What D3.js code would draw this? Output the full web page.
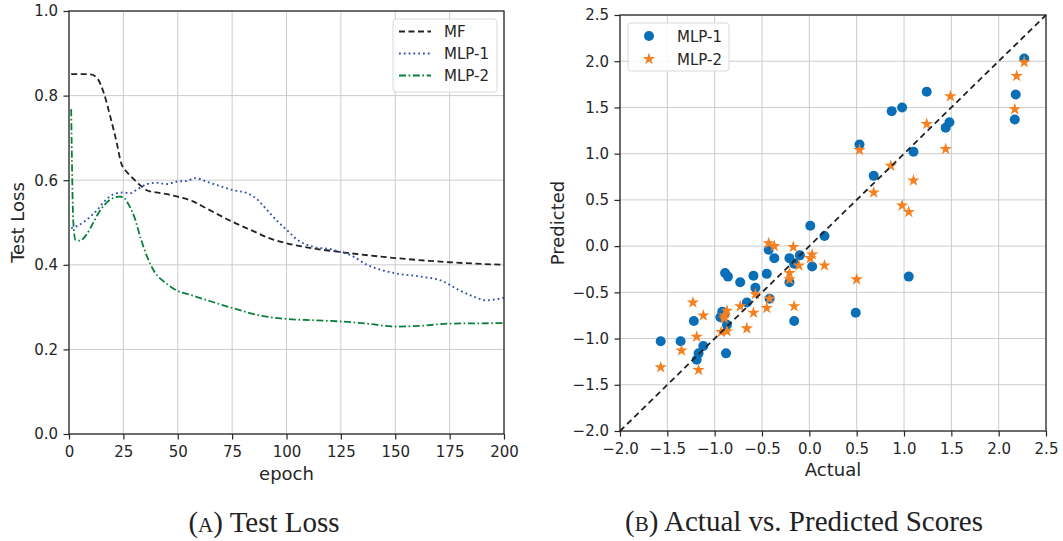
<!DOCTYPE html>
<html>
<head>
<meta charset="utf-8">
<script src="https://cdn.jsdelivr.net/npm/d3@7"></script>
<style>
  body { margin: 0; background: #fff; }
  text { font-family: "DejaVu Sans", sans-serif; fill: #262626; }
  .caption { font-family: "Liberation Serif", "DejaVu Serif", serif; fill: #222; }
</style>
</head>
<body>
<svg id="chart" width="1063" height="541"></svg>
<script>
// ---- (A) test loss curves ----
const mfEpoch = [1, 5, 10, 13, 16, 19, 22, 24, 26.5, 29.5, 32.5, 35.5, 40, 45, 50, 57, 63, 75, 85, 91, 100, 112, 125, 150, 175, 200]
const mfLoss = [0.851, 0.851, 0.85, 0.841, 0.806, 0.75, 0.687, 0.64, 0.62, 0.604, 0.589, 0.577, 0.571, 0.567, 0.561, 0.55, 0.534, 0.502, 0.479, 0.465, 0.451, 0.439, 0.43, 0.416, 0.406, 0.40]

const mlp1Epoch = [1, 3, 8, 13, 17, 21, 25, 28, 31, 36, 40, 45, 50, 54, 58, 63, 70, 75, 82, 86, 91, 96, 100, 105, 112, 122, 125, 129, 137, 150, 162, 172, 179, 186, 192, 197, 200]
const mlp1Loss = [0.487, 0.49, 0.506, 0.53, 0.554, 0.568, 0.571, 0.569, 0.577, 0.591, 0.594, 0.591, 0.597, 0.598, 0.605, 0.597, 0.585, 0.577, 0.569, 0.557, 0.53, 0.502, 0.483, 0.459, 0.443, 0.435, 0.43, 0.424, 0.40, 0.38, 0.372, 0.361, 0.341, 0.325, 0.316, 0.319, 0.322]

const mlp2Epoch = [1, 2, 3, 5, 8, 11, 14, 19, 23, 25, 27, 30, 33, 36, 39, 45, 50, 55, 60, 75, 88, 100, 112, 125, 137, 150, 162, 175, 200]
const mlp2Loss = [0.768, 0.50, 0.459, 0.457, 0.471, 0.498, 0.526, 0.554, 0.561, 0.56, 0.546, 0.514, 0.462, 0.418, 0.386, 0.355, 0.338, 0.330, 0.322, 0.298, 0.28, 0.272, 0.269, 0.266, 0.261, 0.254, 0.256, 0.261, 0.262]

const epochTicks = [0, 25, 50, 75, 100, 125, 150, 175, 200]
const lossTicks = [0.0, 0.2, 0.4, 0.6, 0.8, 1.0]

// ---- (B) actual vs predicted ----
const mlp1Points = [
  [2.27, 2.03], [2.18, 1.64], [2.17, 1.37], [1.24, 1.67], [0.98, 1.50], [0.87, 1.46],
  [1.48, 1.34], [1.44, 1.28], [0.53, 1.10], [1.10, 1.02], [0.68, 0.76], [0.01, 0.22],
  [0.16, 0.11], [-0.43, -0.04], [-0.37, -0.13], [-0.21, -0.13], [-0.10, -0.10], [-0.16, -0.19],
  [0.03, -0.22], [-0.21, -0.39], [-0.45, -0.30], [-0.59, -0.32], [-0.57, -0.45], [-0.73, -0.39],
  [-0.89, -0.29], [-0.86, -0.33], [-0.42, -0.57], [-0.66, -0.61], [-0.92, -0.71], [-0.94, -0.77],
  [-0.90, -0.74], [-0.87, -0.85], [-1.22, -0.81], [-0.16, -0.81], [0.49, -0.72], [1.05, -0.33],
  [-1.57, -1.03], [-1.36, -1.03], [-1.12, -1.08], [-1.17, -1.16], [-1.19, -1.23], [-0.88, -1.16]
]
const mlp2Points = [
  [2.27, 1.99], [2.19, 1.84], [2.17, 1.48], [1.49, 1.62], [1.24, 1.32], [1.44, 1.05],
  [0.53, 1.04], [0.86, 0.87], [0.68, 0.58], [1.10, 0.71], [0.98, 0.44], [1.05, 0.37],
  [-0.43, 0.03], [-0.37, 0.00], [-0.17, -0.01], [0.03, -0.09], [0.01, -0.13], [-0.11, -0.21],
  [0.16, -0.21], [-0.21, -0.29], [-0.21, -0.36], [0.50, -0.36], [-0.57, -0.52], [-0.42, -0.57],
  [-0.45, -0.67], [-0.59, -0.72], [-0.73, -0.65], [-0.66, -0.89], [-0.16, -0.65], [-1.23, -0.61],
  [-1.12, -0.75], [-1.19, -0.98], [-1.35, -1.13], [-1.17, -1.34], [-1.57, -1.31], [-0.87, -0.70],
  [-0.90, -0.75], [-0.90, -0.78], [-0.93, -0.93], [-0.87, -0.92]
]
const scoreTicks = [-2.0, -1.5, -1.0, -0.5, 0.0, 0.5, 1.0, 1.5, 2.0, 2.5]

const svg = d3.select('#chart')
const gridColor = '#cccccc'
const spineColor = '#262626'

// grid + ticks for one panel
function drawAxes(g, x, y, xTicks, yTicks, xFmt, yFmt) {
  const [x0, x1] = x.range()
  const [y0, y1] = y.range()
  g.append('g').selectAll('line').data(xTicks).enter().append('line')
    .attr('x1', d => x(d)).attr('x2', d => x(d)).attr('y1', y0).attr('y2', y1)
    .attr('stroke', gridColor).attr('stroke-width', 1)
  g.append('g').selectAll('line').data(yTicks).enter().append('line')
    .attr('x1', x0).attr('x2', x1).attr('y1', d => y(d)).attr('y2', d => y(d))
    .attr('stroke', gridColor).attr('stroke-width', 1)

  const xAxis = d3.axisBottom(x).tickValues(xTicks).tickFormat(xFmt).tickSize(5.5).tickPadding(6.5)
  const yAxis = d3.axisLeft(y).tickValues(yTicks).tickFormat(yFmt).tickSize(5.5).tickPadding(5.5)
  const ax = g.append('g').attr('transform', `translate(0, ${y0})`).call(xAxis)
  const ay = g.append('g').attr('transform', `translate(${x0}, 0)`).call(yAxis)
  ;[ax, ay].forEach(a => {
    a.select('.domain').remove()
    a.selectAll('line').attr('stroke', spineColor).attr('stroke-width', 1.2)
    a.selectAll('text').attr('font-size', 15).attr('fill', spineColor)
      .style('font-family', '"DejaVu Sans", sans-serif')
  })
}

function drawFrame(g, x, y) {
  const [x0, x1] = x.range()
  const [y0, y1] = y.range()
  g.append('rect').attr('x', x0).attr('y', y1).attr('width', x1 - x0).attr('height', y0 - y1)
    .attr('fill', 'none').attr('stroke', spineColor).attr('stroke-width', 1.25)
}

// ---------------- panel A ----------------
const gA = svg.append('g')
const xA = d3.scaleLinear().domain([0, 200]).range([69, 504])
const yA = d3.scaleLinear().domain([0, 1]).range([434, 11])
drawAxes(gA, xA, yA, epochTicks, lossTicks, d3.format('d'), d3.format('.1f'))

const lossLine = d3.line().x(d => xA(d[0])).y(d => yA(d[1])).curve(d3.curveMonotoneX)
const seriesA = [
  { name: 'MF', ep: mfEpoch, val: mfLoss, color: '#222222', dash: '6,3.5', w: 1.8 },
  { name: 'MLP-1', ep: mlp1Epoch, val: mlp1Loss, color: '#3552b0', dash: '1.8,3', w: 1.9 },
  { name: 'MLP-2', ep: mlp2Epoch, val: mlp2Loss, color: '#08803a', dash: '7,2.6,1.6,2.6', w: 1.8 }
]
seriesA.forEach(s => {
  gA.append('path')
    .datum(s.ep.map((e, i) => [e, s.val[i]]))
    .attr('d', lossLine)
    .attr('fill', 'none')
    .attr('stroke', s.color)
    .attr('stroke-width', s.w)
    .attr('stroke-dasharray', s.dash)
})
drawFrame(gA, xA, yA)

gA.append('text').attr('x', (69 + 504) / 2).attr('y', 480).attr('text-anchor', 'middle')
  .attr('font-size', 18).text('epoch')
gA.append('text').attr('transform', `translate(24, ${(11 + 434) / 2}) rotate(-90)`)
  .attr('text-anchor', 'middle').attr('font-size', 18).text('Test Loss')

// legend A
const legA = gA.append('g')
legA.append('rect').attr('x', 393).attr('y', 19).attr('width', 104).attr('height', 73)
  .attr('rx', 3).attr('fill', 'white').attr('fill-opacity', 0.85)
  .attr('stroke', '#d9d9d9').attr('stroke-width', 1)
seriesA.forEach((s, i) => {
  const ly = 31.5 + i * 22
  legA.append('line').attr('x1', 399).attr('x2', 431).attr('y1', ly).attr('y2', ly)
    .attr('stroke', s.color).attr('stroke-width', s.w).attr('stroke-dasharray', s.dash)
  legA.append('text').attr('x', 444).attr('y', ly + 5.5).attr('font-size', 15).text(s.name)
})

gA.append('text').attr('class', 'caption').attr('x', 264).attr('y', 532)
  .attr('text-anchor', 'middle').attr('font-size', 29)
  .html('(<tspan font-size="21">A</tspan>) Test Loss')

// ---------------- panel B ----------------
const gB = svg.append('g')
const xB = d3.scaleLinear().domain([-2, 2.5]).range([620, 1046])
const yB = d3.scaleLinear().domain([-2, 2.5]).range([431, 15])
drawAxes(gB, xB, yB, scoreTicks, scoreTicks, d3.format('.1f'), d3.format('.1f'))

const blue = '#0a6fb6'
const orange = '#f5801f'
const star = d3.symbol().type(d3.symbolStar).size(48)

gB.append('g').selectAll('circle').data(mlp1Points).enter().append('circle')
  .attr('cx', d => xB(d[0])).attr('cy', d => yB(d[1])).attr('r', 5)
  .attr('fill', blue)
gB.append('g').selectAll('path').data(mlp2Points).enter().append('path')
  .attr('d', star)
  .attr('transform', d => `translate(${xB(d[0])}, ${yB(d[1])})`)
  .attr('fill', orange)

gB.append('line')
  .attr('x1', xB(-2)).attr('y1', yB(-2)).attr('x2', xB(2.5)).attr('y2', yB(2.5))
  .attr('stroke', '#222').attr('stroke-width', 1.8).attr('stroke-dasharray', '6,4')
drawFrame(gB, xB, yB)

gB.append('text').attr('x', (620 + 1046) / 2).attr('y', 476).attr('text-anchor', 'middle')
  .attr('font-size', 18).text('Actual')
gB.append('text').attr('transform', `translate(564, ${(15 + 431) / 2}) rotate(-90)`)
  .attr('text-anchor', 'middle').attr('font-size', 18).text('Predicted')

// legend B
const legB = gB.append('g')
legB.append('rect').attr('x', 628).attr('y', 23).attr('width', 101).attr('height', 48)
  .attr('rx', 3).attr('fill', 'white').attr('fill-opacity', 0.85)
  .attr('stroke', '#d9d9d9').attr('stroke-width', 1)
legB.append('circle').attr('cx', 649).attr('cy', 36).attr('r', 5).attr('fill', blue)
legB.append('path').attr('d', star).attr('transform', 'translate(649, 59)').attr('fill', orange)
legB.append('text').attr('x', 677).attr('y', 41.5).attr('font-size', 15).text('MLP-1')
legB.append('text').attr('x', 677).attr('y', 64.5).attr('font-size', 15).text('MLP-2')

gB.append('text').attr('class', 'caption').attr('x', 804).attr('y', 531)
  .attr('text-anchor', 'middle').attr('font-size', 29)
  .html('(<tspan font-size="21">B</tspan>) Actual vs. Predicted Scores')
</script>
</body>
</html>
